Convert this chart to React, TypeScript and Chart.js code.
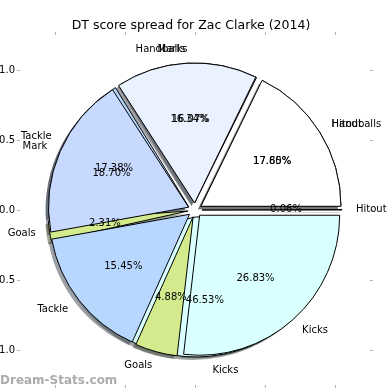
import React, { useEffect, useRef } from "react";
import { Chart, registerables } from "chart.js";

Chart.register(...registerables);

// ---------- data ----------
const TITLE = "DT score spread for Zac Clarke (2014)";
const WATERMARK = "Dream-Stats.com";

// first pie (drawn underneath)
const categoriesA = ["Hitout", "Handballs", "Marks", "Tackle", "Goals", "Kicks"];
const valuesA = [0.06, 17.65, 16.07, 17.38, 2.31, 46.53];

// second pie (drawn on top)
const categoriesB = ["Hitout", "Handballs", "Mark", "Tackle", "Goals", "Kicks"];
const valuesB = [17.8, 16.34, 18.7, 15.45, 4.88, 26.83];

const sliceColors = ["#ffffff", "#eaf1ff", "#c7d9ff", "#b7d7ff", "#d3eb8c", "#d9ffff"];

const tickValues = [-1, -0.5, 0, 0.5, 1];
const tickLabels = ["\u22121.0", "\u22120.5", "0.0", "0.5", "1.0"];

// ---------- style ----------
const FONT = "DejaVu Sans";
const AXIS_LIMIT = 1.25;
const EXPLODE = 0.05;
const LABEL_DIST = 1.1;
const PCT_DIST = 0.6;
const SHADOW_SHIFT = 0.022;
const TICK_COLOR = "#b4b4b4";
const EDGE_COLOR = "#000000";

const SIZE = 390;
const AXES_LEFT = -8;
const AXES_W = 398;
const AXES_H = 412;
const PLOT_TOP = 35;
const PLOT_BOTTOM = 385;
const PLOT_LEFT = 28; // in axes-canvas coords
const RIGHT_W = 20;
const TITLE_LINE = 1.2;
const TITLE_SIZE = 12.5;
const TITLE_CENTER = 25.5;

const rev = <T,>(a: T[]) => a.slice().reverse();

function darken(hex: string, alpha: number) {
  const n = parseInt(hex.slice(1), 16);
  const r = Math.round(((n >> 16) & 255) * 0.3);
  const g = Math.round(((n >> 8) & 255) * 0.3);
  const b = Math.round((n & 255) * 0.3);
  return `rgba(${r},${g},${b},${alpha})`;
}

export default function App() {
  const axesRef = useRef<HTMLCanvasElement | null>(null);
  const pieRef = useRef<HTMLCanvasElement | null>(null);

  useEffect(() => {
    document.body.style.margin = "0";
    const axesCanvas = axesRef.current!;
    const pieCanvas = pieRef.current!;

    const tickFont = { family: FONT, size: 10 };
    const grid = {
      drawOnChartArea: false,
      drawTicks: true,
      tickLength: 3,
      color: TICK_COLOR,
      lineWidth: 1,
    };
    const setTicks = (s: any) => {
      s.ticks = tickValues.map((v) => ({ value: v }));
    };
    const labelFor = (v: any) => {
      const i = tickValues.indexOf(Number(v));
      return i >= 0 ? tickLabels[i] : "";
    };
    const titlePadTop = TITLE_CENTER - (TITLE_SIZE * TITLE_LINE) / 2;
    const titleHeight = titlePadTop + TITLE_SIZE * TITLE_LINE;

    const axes = new Chart(axesCanvas, {
      type: "scatter",
      data: { datasets: [] },
      options: {
        responsive: false,
        animation: false,
        events: [],
        layout: { padding: 0 },
        plugins: {
          legend: { display: false },
          tooltip: { enabled: false },
          title: {
            display: true,
            text: TITLE,
            color: "#000",
            font: { family: FONT, size: TITLE_SIZE, weight: "normal", lineHeight: TITLE_LINE },
            padding: { top: titlePadTop, bottom: 0 },
          },
        },
        scales: {
          x: {
            type: "linear",
            position: "bottom",
            min: -AXIS_LIMIT,
            max: AXIS_LIMIT,
            afterBuildTicks: setTicks,
            afterFit: (s: any) => {
              s.height = AXES_H - PLOT_BOTTOM;
            },
            ticks: { callback: labelFor, color: "#000", font: tickFont, padding: 2, maxRotation: 0 },
            grid,
            border: { display: false },
          },
          xTop: {
            type: "linear",
            position: "top",
            min: -AXIS_LIMIT,
            max: AXIS_LIMIT,
            afterBuildTicks: setTicks,
            afterFit: (s: any) => {
              s.height = PLOT_TOP - titleHeight;
            },
            ticks: { display: false },
            grid,
            border: { display: false },
          },
          y: {
            type: "linear",
            position: "left",
            min: -AXIS_LIMIT,
            max: AXIS_LIMIT,
            afterBuildTicks: setTicks,
            afterFit: (s: any) => {
              s.width = PLOT_LEFT;
            },
            ticks: { callback: labelFor, color: "#000", font: tickFont, padding: 2 },
            grid,
            border: { display: false },
          },
          yRight: {
            type: "linear",
            position: "right",
            min: -AXIS_LIMIT,
            max: AXIS_LIMIT,
            afterBuildTicks: setTicks,
            afterFit: (s: any) => {
              s.width = RIGHT_W;
            },
            ticks: { display: false },
            grid,
            border: { display: false },
          },
        },
      } as any,
    });

    const xs: any = axes.scales.x;
    const ys: any = axes.scales.y;
    const cx = xs.getPixelForValue(0) + AXES_LEFT;
    const cy = ys.getPixelForValue(0);
    const unit = xs.getPixelForValue(1) - xs.getPixelForValue(0);
    const half = Math.min(cx, SIZE - cx, cy, SIZE - cy);

    const catsByDataset = [rev(categoriesB), rev(categoriesA)];

    const overlayPlugin = {
      id: "overlayPies",
      afterDatasetsUpdate(chart: any) {
        chart.data.datasets.forEach((_ds: any, di: number) => {
          const meta = chart.getDatasetMeta(di);
          meta.data.forEach((arc: any) => {
            const mid = (arc.startAngle + arc.endAngle) / 2;
            arc.x = cx + Math.cos(mid) * EXPLODE * unit;
            arc.y = cy + Math.sin(mid) * EXPLODE * unit;
            arc.outerRadius = unit;
            arc.innerRadius = 0;
          });
        });
      },
      beforeDatasetsDraw(chart: any) {
        const ctx = chart.ctx as CanvasRenderingContext2D;
        ctx.save();
        chart.data.datasets.forEach((ds: any, di: number) => {
          const meta = chart.getDatasetMeta(di);
          meta.data.forEach((arc: any, i: number) => {
            const sx = arc.x - SHADOW_SHIFT * unit;
            const sy = arc.y + SHADOW_SHIFT * unit;
            ctx.beginPath();
            ctx.moveTo(sx, sy);
            ctx.arc(sx, sy, arc.outerRadius, arc.startAngle, arc.endAngle);
            ctx.closePath();
            ctx.fillStyle = darken(ds.backgroundColor[i], 0.5);
            ctx.fill();
          });
        });
        ctx.restore();
      },
      afterDatasetsDraw(chart: any) {
        const ctx = chart.ctx as CanvasRenderingContext2D;
        ctx.save();
        ctx.fillStyle = "#000";
        ctx.font = `10px "${FONT}"`;
        ctx.textBaseline = "middle";
        // draw the underneath pie's texts first, then the top pie's
        [1, 0].forEach((di) => {
          const meta = chart.getDatasetMeta(di);
          const data: number[] = chart.data.datasets[di].data;
          const total = data.reduce((a, b) => a + b, 0);
          meta.data.forEach((arc: any, i: number) => {
            const mid = (arc.startAngle + arc.endAngle) / 2;
            const lx = arc.x + Math.cos(mid) * LABEL_DIST * unit;
            const ly = arc.y + Math.sin(mid) * LABEL_DIST * unit;
            ctx.textAlign = lx - cx > 0 ? "left" : "right";
            ctx.fillText(catsByDataset[di][i], lx, ly);
            const px = arc.x + Math.cos(mid) * PCT_DIST * unit;
            const py = arc.y + Math.sin(mid) * PCT_DIST * unit;
            ctx.textAlign = "center";
            ctx.fillText(((100 * data[i]) / total).toFixed(2) + "%", px, py);
          });
        });
        ctx.restore();
      },
      afterDraw(chart: any) {
        const ctx = chart.ctx as CanvasRenderingContext2D;
        ctx.save();
        ctx.fillStyle = "rgba(135,135,135,0.7)";
        ctx.font = `600 12px "${FONT}"`;
        ctx.textAlign = "left";
        ctx.textBaseline = "alphabetic";
        ctx.fillText(WATERMARK, 0, 384);
        ctx.restore();
      },
    };

    const pie = new Chart(pieCanvas, {
      type: "pie",
      data: {
        labels: rev(categoriesB),
        datasets: [
          {
            label: "top",
            data: rev(valuesB),
            backgroundColor: rev(sliceColors),
            borderColor: EDGE_COLOR,
            borderWidth: 1,
          },
          {
            label: "under",
            data: rev(valuesA),
            backgroundColor: rev(sliceColors),
            borderColor: EDGE_COLOR,
            borderWidth: 1,
          },
        ],
      },
      options: {
        responsive: false,
        animation: false,
        events: [],
        rotation: 90,
        layout: {
          padding: {
            left: cx - half,
            right: SIZE - cx - half,
            top: cy - half,
            bottom: SIZE - cy - half,
          },
        },
        plugins: {
          legend: { display: false },
          tooltip: { enabled: false },
          title: { display: false },
        },
      } as any,
      plugins: [overlayPlugin],
    });

    return () => {
      pie.destroy();
      axes.destroy();
    };
  }, []);

  return (
    <div
      style={{
        position: "fixed",
        left: 0,
        top: 0,
        width: SIZE,
        height: SIZE,
        overflow: "hidden",
        background: "#fff",
      }}
    >
      <canvas
        ref={axesRef}
        width={AXES_W}
        height={AXES_H}
        style={{ position: "absolute", left: AXES_LEFT, top: 0 }}
      />
      <canvas
        ref={pieRef}
        width={SIZE}
        height={SIZE}
        style={{ position: "absolute", left: 0, top: 0 }}
      />
    </div>
  );
}
